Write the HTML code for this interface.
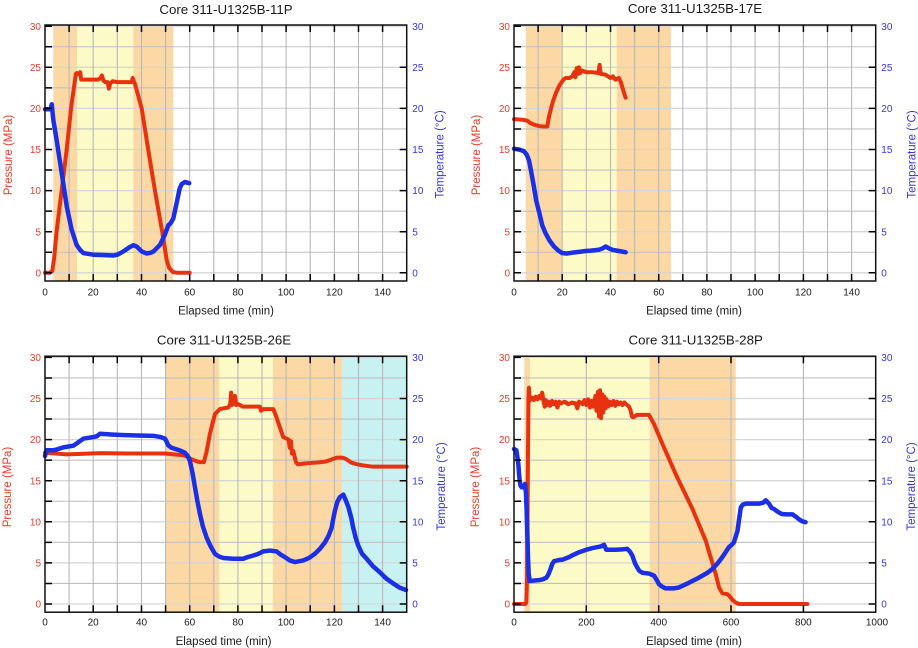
<!DOCTYPE html>
<html><head><meta charset="utf-8"><style>
html,body{margin:0;padding:0;background:#fff;}
svg{display:block;}
text{font-family:"Liberation Sans",Arial,Helvetica,sans-serif;}
.t{font-size:13.3px;fill:#1a1a1a;text-anchor:middle;}
.xl{font-size:10px;fill:#1a1a1a;text-anchor:middle;}
.lr{font-size:10px;fill:#ec3b26;text-anchor:end;}
.rb{font-size:10px;fill:#3434ec;text-anchor:start;}
.ax{font-size:11.5px;fill:#1a1a1a;text-anchor:middle;}
.ap{font-size:11.5px;fill:#ec3b26;text-anchor:middle;}
.at{font-size:11.5px;fill:#3434ec;text-anchor:middle;}
.r{fill:none;stroke:#e8320f;stroke-width:4;stroke-linejoin:round;stroke-linecap:round;}
.b{fill:none;stroke:#1a2fe6;stroke-width:4.5;stroke-linejoin:round;stroke-linecap:round;}
</style></head><body>
<svg width="918" height="648" viewBox="0 0 918 648" xmlns="http://www.w3.org/2000/svg">
<defs>
<g id="hgMaj"><path d="M45 272.8H406.7M45 231.7H406.7M45 190.6H406.7M45 149.5H406.7M45 108.4H406.7M45 67.3H406.7M45 26.2H406.7" stroke="#d6d6d6" stroke-width="1.3" fill="none"/></g>
<g id="hgMin"><path d="M45 252.25H406.7M45 211.15H406.7M45 170.05H406.7M45 128.95H406.7M45 87.85H406.7M45 46.75H406.7" stroke="#c0c0c0" stroke-width="1.1" fill="none"/></g>
<g id="vg10"><path d="M69.1 25V281M93.2 25V281M117.3 25V281M141.5 25V281M165.6 25V281M189.7 25V281M213.8 25V281M237.9 25V281M262 25V281M286.1 25V281M310.2 25V281M334.4 25V281M358.5 25V281M382.6 25V281" stroke="#b9b9b9" stroke-width="1.1" fill="none"/></g>
<g id="yax"><path d="M45 272.8h7M45 252.25h7M45 231.7h7M45 211.15h7M45 190.6h7M45 170.05h7M45 149.5h7M45 128.95h7M45 108.4h7M45 87.85h7M45 67.3h7M45 46.75h7M45 26.2h7M406.7 272.8h-7M406.7 231.7h-7M406.7 190.6h-7M406.7 149.5h-7M406.7 108.4h-7M406.7 67.3h-7" stroke="#000" stroke-width="1.5" fill="none"/><rect x="45" y="25" width="361.7" height="256" fill="none" stroke="#111" stroke-width="1.5"/></g>
<g id="xt10"><path d="M69.1 25v7M93.2 25v7M117.3 25v7M141.5 25v7M165.6 25v7M189.7 25v7M213.8 25v7M237.9 25v7M262 25v7M286.1 25v7M310.2 25v7M334.4 25v7M358.5 25v7M382.6 25v7M69.1 281v-7M93.2 281v-7M117.3 281v-7M141.5 281v-7M165.6 281v-7M189.7 281v-7M213.8 281v-7M237.9 281v-7M262 281v-7M286.1 281v-7M310.2 281v-7M334.4 281v-7M358.5 281v-7M382.6 281v-7" stroke="#000" stroke-width="1.5" fill="none"/></g>
</defs>
<rect x="0" y="0" width="918" height="648" fill="#fff"/>

<!-- ===== P1 ===== -->
<rect x="53.3" y="25" width="23.7" height="256" fill="#fcd8a4"/>
<rect x="77" y="25" width="56.3" height="256" fill="#fcfac6"/>
<rect x="133.3" y="25" width="40" height="256" fill="#fcd8a4"/>
<use href="#hgMaj"/><use href="#hgMin"/><use href="#vg10"/>
<g transform="translate(45,272.8) scale(2.4113,-8.22)">
<polyline class="r" vector-effect="non-scaling-stroke" points="0,0 2,0 3,0.2 3.8,1.8 4.8,5 6.9,10 9,15 10.8,20 12.8,24.2 13.2,24.3 14.3,24.1 14.6,24.4 15,23.5 18,23.5 22,23.5 23,23.7 23.6,24 24.2,23.4 25,23.2 26,23.2 26.5,22.4 27,23 28,23.3 30,23.2 35.9,23.2 36.4,23.7 36.8,23.3 37.3,23 40.1,20 42.8,15 45.6,10 48.6,5 50.5,1.5 51.5,0.6 53,0.1 55,0 60,0"/>
<polyline class="b" vector-effect="non-scaling-stroke" points="0,19.9 2,19.9 2.5,20.1 2.8,20.5 3.1,19.6 3.5,18.5 4.8,16.2 6.9,12.2 9,8.1 11,5.3 13.1,3.4 14.5,2.8 15.9,2.4 20,2.2 25,2.15 28.3,2.1 30,2.2 32.5,2.6 35,3.1 36.6,3.35 38,3.2 40.1,2.6 42.1,2.35 44,2.45 45,2.6 47.7,3.4 49.5,4.5 50.4,5.2 51.2,5.8 52,6 53.2,6.6 54.6,8.5 55.8,10.2 56.7,10.8 58,11.05 59.8,10.9"/>
</g>
<use href="#yax"/><use href="#xt10"/>
<text class="t" x="226" y="14">Core 311-U1325B-11P</text>
<text class="lr" x="41" y="276.4">0</text><text class="lr" x="41" y="235.3">5</text><text class="lr" x="41" y="194.2">10</text><text class="lr" x="41" y="153.1">15</text><text class="lr" x="41" y="112">20</text><text class="lr" x="41" y="70.9">25</text><text class="lr" x="41" y="29.8">30</text>
<text class="rb" x="412.3" y="276.4">0</text><text class="rb" x="412.3" y="235.3">5</text><text class="rb" x="412.3" y="194.2">10</text><text class="rb" x="412.3" y="153.1">15</text><text class="rb" x="412.3" y="112">20</text><text class="rb" x="412.3" y="70.9">25</text><text class="rb" x="412.3" y="29.8">30</text>
<text class="xl" x="45" y="295.4">0</text><text class="xl" x="93.2" y="295.4">20</text><text class="xl" x="141.5" y="295.4">40</text><text class="xl" x="189.7" y="295.4">60</text><text class="xl" x="237.9" y="295.4">80</text><text class="xl" x="286.1" y="295.4">100</text><text class="xl" x="334.4" y="295.4">120</text><text class="xl" x="382.6" y="295.4">140</text>
<text class="ax" x="226" y="314.5">Elapsed time (min)</text>
<text class="ap" transform="translate(11.8,155) rotate(-90)">Pressure (MPa)</text>
<text class="at" transform="translate(443.4,154.5) rotate(-90)">Temperature (°C)</text>

<!-- ===== P2 ===== -->
<rect x="525.7" y="25" width="36.6" height="256" fill="#fcd8a4"/>
<rect x="562.3" y="25" width="54.4" height="256" fill="#fcfac6"/>
<rect x="616.7" y="25" width="54.3" height="256" fill="#fcd8a4"/>
<g transform="translate(469,0)"><use href="#hgMaj"/><use href="#hgMin"/><use href="#vg10"/></g>
<g transform="translate(514,272.8) scale(2.4113,-8.22)">
<polyline class="r" vector-effect="non-scaling-stroke" points="0,18.7 4.1,18.6 5.5,18.5 6.9,18.2 8.5,18 10.4,17.85 12,17.8 13.8,17.8 14.5,19 15.2,19.8 16.2,20.9 17.3,21.8 18.5,22.6 19.3,23 20.5,23.5 21.4,23.7 23,23.7 24.2,23.9 25,24.4 25.5,23.8 26,24.9 26.5,24.2 27,25 27.5,24.3 28.3,24.6 30,24.4 32.5,24.4 35,24.3 35.5,25.3 36,24.2 38,24.1 40,23.7 41,23.9 42,23.5 43.5,23.7 44.3,23.2 45,22.5 45.7,21.8 46.3,21.3"/>
<polyline class="b" vector-effect="non-scaling-stroke" points="0,15.1 2,15 4.1,14.8 5.2,14.4 6.2,13.7 7.2,12.2 8.3,10.4 9.2,8.8 10.4,7.4 11.7,5.8 13.1,4.8 14.8,3.9 16.6,3.2 18.4,2.7 20,2.4 22,2.35 24.2,2.45 27,2.55 29.7,2.65 32,2.7 35.2,2.8 36.6,2.95 38,3.2 39.2,3 40.8,2.8 43.5,2.65 46.3,2.5"/>
</g>
<g transform="translate(469,0)"><use href="#yax"/><use href="#xt10"/></g>
<text class="t" x="695" y="13">Core 311-U1325B-17E</text>
<text class="lr" x="510" y="276.4">0</text><text class="lr" x="510" y="235.3">5</text><text class="lr" x="510" y="194.2">10</text><text class="lr" x="510" y="153.1">15</text><text class="lr" x="510" y="112">20</text><text class="lr" x="510" y="70.9">25</text><text class="lr" x="510" y="29.8">30</text>
<text class="rb" x="881.3" y="276.4">0</text><text class="rb" x="881.3" y="235.3">5</text><text class="rb" x="881.3" y="194.2">10</text><text class="rb" x="881.3" y="153.1">15</text><text class="rb" x="881.3" y="112">20</text><text class="rb" x="881.3" y="70.9">25</text><text class="rb" x="881.3" y="29.8">30</text>
<text class="xl" x="514" y="295.4">0</text><text class="xl" x="562.2" y="295.4">20</text><text class="xl" x="610.5" y="295.4">40</text><text class="xl" x="658.7" y="295.4">60</text><text class="xl" x="706.9" y="295.4">80</text><text class="xl" x="755.1" y="295.4">100</text><text class="xl" x="803.4" y="295.4">120</text><text class="xl" x="851.6" y="295.4">140</text>
<text class="ax" x="694" y="314.5">Elapsed time (min)</text>
<text class="ap" transform="translate(480.1,155) rotate(-90)">Pressure (MPa)</text>
<text class="at" transform="translate(915.4,154.5) rotate(-90)">Temperature (°C)</text>

<!-- ===== P3 ===== -->
<rect x="165.3" y="356.2" width="54" height="256" fill="#fcd8a4"/>
<rect x="219.3" y="356.2" width="53.7" height="256" fill="#fcfac6"/>
<rect x="273" y="356.2" width="69.3" height="256" fill="#fcd8a4"/>
<rect x="342.3" y="356.2" width="64.4" height="256" fill="#c8f1f2"/>
<g transform="translate(0,331.2)"><use href="#hgMaj"/><use href="#hgMin"/><use href="#vg10"/></g>
<g transform="translate(45,604) scale(2.4113,-8.223)">
<polyline class="r" vector-effect="non-scaling-stroke" points="0,18.4 9,18.2 15,18.25 22.8,18.35 35,18.3 49.8,18.3 55,18.15 57.4,18.1 59,17.9 60.8,17.6 62.5,17.4 64.3,17.25 65.9,17.25 67,18.5 68.4,20.7 69.5,22 70.5,23.1 72.5,23.7 74,23.8 76,23.9 76.8,24.3 77.2,25.7 77.6,24.2 78.3,24.7 78.8,25.3 79.3,24.2 80.2,24.3 82,24 89.1,24 89.6,23.5 90.5,23.7 94.7,23.7 96,22.7 98.8,20.3 101,20 101.5,19 102,19.8 102.4,18.3 103,18.6 104,17.3 104.8,17 108,17.1 112.6,17.2 116,17.3 118.2,17.5 121,17.8 123,17.8 124,17.75 125,17.6 127,17.2 129.2,17 132,16.85 136,16.7 150,16.7"/>
<polyline class="b" vector-effect="non-scaling-stroke" points="0,18 0.7,18.7 3.5,18.7 5,18.8 7.6,19.05 11.7,19.25 13.5,19.6 15.9,20.1 20,20.3 21.5,20.4 22.8,20.7 28.3,20.6 36.6,20.5 44.9,20.45 48,20.3 49.8,20.1 50.5,19.7 51.1,19.3 52.5,19 54.6,18.8 56.5,18.6 58,18.4 59.2,18 60.1,17.4 61.2,15.9 62.2,14.2 63.2,12.5 64.3,10.9 65.5,9.4 67,8.1 68.7,7 70.5,6.1 72,5.8 73.9,5.6 78,5.5 82.2,5.5 84,5.7 86.4,5.9 88.5,6.1 90.5,6.4 93.3,6.5 96,6.4 97.8,6 99.5,5.7 101.5,5.3 103.7,5.1 107.1,5.3 109.5,5.6 111.9,6.1 114,6.7 116.1,7.5 117.6,8.3 118.9,9.3 119.5,10.3 120.2,11.3 121.2,12.4 122.3,13 123.7,13.3 124.6,12.7 125.8,11.8 127,10.5 127.8,9.3 128.9,8 129.9,7.1 131.5,6.1 133.4,5.5 136,4.6 138.9,3.85 141.5,3.1 144.4,2.5 147,2 149.7,1.7"/>
</g>
<g transform="translate(0,331.2)"><use href="#yax"/><use href="#xt10"/></g>
<text class="t" x="224" y="344.5">Core 311-U1325B-26E</text>
<text class="lr" x="41" y="607.6">0</text><text class="lr" x="41" y="566.5">5</text><text class="lr" x="41" y="525.4">10</text><text class="lr" x="41" y="484.3">15</text><text class="lr" x="41" y="443.2">20</text><text class="lr" x="41" y="402.1">25</text><text class="lr" x="41" y="361">30</text>
<text class="rb" x="412.3" y="607.6">0</text><text class="rb" x="412.3" y="566.5">5</text><text class="rb" x="412.3" y="525.4">10</text><text class="rb" x="412.3" y="484.3">15</text><text class="rb" x="412.3" y="443.2">20</text><text class="rb" x="412.3" y="402.1">25</text><text class="rb" x="412.3" y="361">30</text>
<text class="xl" x="45" y="625.3">0</text><text class="xl" x="93.2" y="625.3">20</text><text class="xl" x="141.5" y="625.3">40</text><text class="xl" x="189.7" y="625.3">60</text><text class="xl" x="237.9" y="625.3">80</text><text class="xl" x="286.1" y="625.3">100</text><text class="xl" x="334.4" y="625.3">120</text><text class="xl" x="382.6" y="625.3">140</text>
<text class="ax" x="223.5" y="644.8">Elapsed time (min)</text>
<text class="ap" transform="translate(10.8,487) rotate(-90)">Pressure (MPa)</text>
<text class="at" transform="translate(444.8,486.5) rotate(-90)">Temperature (°C)</text>

<!-- ===== P4 ===== -->
<rect x="524.3" y="356.2" width="5.7" height="256" fill="#fcd8a4"/>
<rect x="530" y="356.2" width="119.7" height="256" fill="#fcfac6"/>
<rect x="649.7" y="356.2" width="86" height="256" fill="#fcd8a4"/>
<g transform="translate(469,331.2)"><use href="#hgMaj"/><use href="#hgMin"/></g>
<path d="M586.3 356.2V612.2M658.7 356.2V612.2M731 356.2V612.2M803.4 356.2V612.2" stroke="#b9b9b9" stroke-width="1.1" fill="none"/>
<g transform="translate(514,604) scale(0.3617,-8.223)">
<polyline class="r" vector-effect="non-scaling-stroke" points="0,0 32,0 34,0.2 36,3 38,15 40,25 41.3,26.3 42.5,24.8 43,24.7 50,25.1 55,24.8 60,25.2 65,24.9 70,25.3 75,25 78,25.7 82,24.6 85,24 88,24.8 92,24.2 96,24.6 100,24.1 105,24.7 110,24.3 115,24.6 120,23.9 125,24.6 130,24.4 140,24.6 150,24.3 160,24.5 170,24.4 175,23.8 180,24.6 190,24.3 195,24.8 200,24.2 205,24.9 210,23.9 215,24.7 220,24 225,25.3 228,23.5 232,25.8 235,22.8 238,26 241,22.6 244,25.5 247,23.3 250,25.2 253,23.8 256,24.9 260,24 265,24.6 270,24.2 275,24.7 280,24.1 285,24.6 290,24.3 295,24.5 300,24.2 305,24.5 310,24.3 318,24 322,23.6 326,22.8 330,22.7 340,23 360,23 373,23 387,21.9 410,19.5 447,15.8 493,11.6 530,7.7 545,5.5 558,3.6 567,2 576,1.3 590,1.2 597,0.9 604,0.5 612,0.2 622,0 811,0"/>
<polyline class="b" vector-effect="non-scaling-stroke" points="0,18.85 6.5,18.7 9,18 12,17 14,15.8 15.7,15 18,14.4 21,14.2 27.6,14.2 30.4,14.6 33,13.5 35,11.35 37,8.3 38.7,5.7 40.5,3.8 43.3,2.8 55,2.85 69,2.9 80,3 89.4,3.2 95,3.6 101.4,4.3 106,4.9 110.6,5.2 124,5.35 135,5.4 152,5.7 165,6 180,6.3 200,6.6 217,6.8 240,7 249,7.2 252,6.9 255,6.6 281,6.6 300,6.65 313,6.7 320,6.4 327,5.9 335,4.9 346,4.05 355,3.8 373,3.7 387,3.45 395,2.9 401,2.4 410,2.1 419,1.9 442,1.9 455,2 465,2.2 480,2.5 493,2.8 507,3.1 521,3.45 535,3.8 548,4.25 562,4.9 576,5.7 585,6.3 594,6.9 602,7.2 608,7.5 613,8.2 618,8.9 622,10.2 627,11.75 633,12.1 641,12.2 660,12.2 677,12.2 688,12.3 696,12.6 705,12.2 712,11.7 719,11.55 730,11.2 740,10.95 755,10.9 770,10.9 780,10.6 788,10.3 797,10.05 806,9.95"/>
</g>
<g transform="translate(469,331.2)"><use href="#yax"/></g>
<path d="M586.3 356.2v7M658.7 356.2v7M731 356.2v7M803.4 356.2v7M586.3 612.2v-7M658.7 612.2v-7M731 612.2v-7M803.4 612.2v-7" stroke="#000" stroke-width="1.5" fill="none"/>
<text class="t" x="695.7" y="344.5">Core 311-U1325B-28P</text>
<text class="lr" x="510" y="607.6">0</text><text class="lr" x="510" y="566.5">5</text><text class="lr" x="510" y="525.4">10</text><text class="lr" x="510" y="484.3">15</text><text class="lr" x="510" y="443.2">20</text><text class="lr" x="510" y="402.1">25</text><text class="lr" x="510" y="361">30</text>
<text class="rb" x="881.3" y="607.6">0</text><text class="rb" x="881.3" y="566.5">5</text><text class="rb" x="881.3" y="525.4">10</text><text class="rb" x="881.3" y="484.3">15</text><text class="rb" x="881.3" y="443.2">20</text><text class="rb" x="881.3" y="402.1">25</text><text class="rb" x="881.3" y="361">30</text>
<text class="xl" x="514" y="625.3">0</text><text class="xl" x="586.3" y="625.3">200</text><text class="xl" x="658.7" y="625.3">400</text><text class="xl" x="731" y="625.3">600</text><text class="xl" x="803.4" y="625.3">800</text><text class="xl" x="877" y="625.3">1000</text>
<text class="ax" x="694" y="644.8">Elapsed time (min)</text>
<text class="ap" transform="translate(479.1,487) rotate(-90)">Pressure (MPa)</text>
<text class="at" transform="translate(915.1,486.5) rotate(-90)">Temperature (°C)</text>
</svg>
</body></html>
